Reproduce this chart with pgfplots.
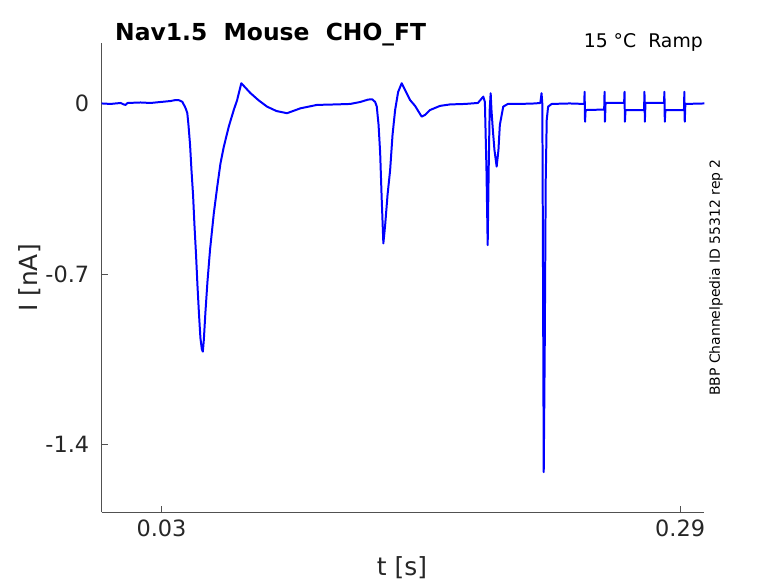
\documentclass[border=0pt]{standalone}
\usepackage{pgfplots}
\pgfplotsset{compat=1.18}
\usepackage{fontspec}
\setmainfont{DejaVu Sans}
\definecolor{axgray}{RGB}{38,38,38}
\begin{document}
\begin{tikzpicture}
\useasboundingbox (0,0) rectangle (778bp,583bp);
\begin{axis}[
  at={(101.7bp,70.7bp)}, anchor=south west,
  scale only axis, width=602.6bp, height=469.3bp,
  xmin=0, xmax=0.3021, ymin=-1.677, ymax=0.248,
  axis x line*=bottom, axis y line*=left,
  axis line style={-, draw=axgray!80, line width=0.6pt},
  tick style={draw=axgray!80, line width=0.6pt},
  major tick length=6bp,
  tick align=inside,
  xtick={0.03,0.29}, xticklabels={0.03,0.29},
  ytick={-1.4,-0.7,0}, yticklabels={-1.4,-0.7,0},
  ticklabel style={font=\fontsize{22.5}{26}\selectfont, text=axgray},
  yticklabel style={xshift=-9bp},
  xticklabel style={yshift=-4bp},
  clip=true,
]
\addplot[blue, line width=2pt, line join=round] table[row sep=\\] {
t I\\
0.0000 0.000\\
0.0045 -0.002\\
0.0095 0.002\\
0.0110 -0.004\\
0.0120 -0.006\\
0.0130 0.002\\
0.0195 0.004\\
0.0245 0.002\\
0.0295 0.006\\
0.0345 0.010\\
0.0370 0.014\\
0.0385 0.014\\
0.0404 0.007\\
0.0415 -0.010\\
0.0422 -0.022\\
0.0429 -0.039\\
0.0435 -0.088\\
0.0443 -0.170\\
0.0450 -0.273\\
0.0458 -0.375\\
0.0465 -0.499\\
0.0473 -0.622\\
0.0480 -0.745\\
0.0488 -0.868\\
0.0495 -0.963\\
0.0502 -1.008\\
0.0507 -1.018\\
0.0512 -0.970\\
0.0520 -0.856\\
0.0530 -0.733\\
0.0543 -0.601\\
0.0562 -0.451\\
0.0579 -0.343\\
0.0595 -0.248\\
0.0612 -0.178\\
0.0637 -0.095\\
0.0662 -0.027\\
0.0679 0.014\\
0.0700 0.083\\
0.0745 0.043\\
0.0785 0.014\\
0.0829 -0.013\\
0.0876 -0.031\\
0.0929 -0.040\\
0.0996 -0.020\\
0.1079 -0.006\\
0.1171 -0.004\\
0.1246 -0.002\\
0.1296 0.006\\
0.1336 0.016\\
0.1356 0.017\\
0.1371 0.006\\
0.1379 -0.013\\
0.1388 -0.088\\
0.1396 -0.203\\
0.1403 -0.375\\
0.1412 -0.574\\
0.1421 -0.499\\
0.1433 -0.375\\
0.1446 -0.273\\
0.1458 -0.129\\
0.1471 -0.027\\
0.1486 0.047\\
0.1504 0.083\\
0.1521 0.055\\
0.1546 0.014\\
0.1571 -0.010\\
0.1604 -0.054\\
0.1621 -0.047\\
0.1646 -0.027\\
0.1696 -0.010\\
0.1746 -0.004\\
0.1821 -0.002\\
0.1886 0.002\\
0.1913 0.028\\
0.1921 0.006\\
0.1929 -0.273\\
0.1935 -0.581\\
0.1940 -0.273\\
0.1945 -0.027\\
0.1950 0.042\\
0.1954 -0.027\\
0.1961 -0.109\\
0.1969 -0.191\\
0.1980 -0.259\\
0.1989 -0.191\\
0.1996 -0.088\\
0.2013 -0.013\\
0.2036 -0.002\\
0.2096 -0.002\\
0.2171 0.000\\
0.2199 0.002\\
0.2205 0.042\\
0.2209 -0.002\\
0.2212 -0.601\\
0.2216 -1.512\\
0.2221 -1.011\\
0.2226 -0.314\\
0.2231 -0.068\\
0.2238 -0.013\\
0.2256 -0.002\\
0.2346 0.000\\
0.2419 -0.002\\
0.2421 0.048\\
0.2423 -0.075\\
0.2426 -0.027\\
0.2519 -0.025\\
0.2521 0.048\\
0.2523 -0.075\\
0.2526 0.002\\
0.2619 0.002\\
0.2621 0.048\\
0.2623 -0.075\\
0.2626 -0.027\\
0.2719 -0.027\\
0.2721 0.048\\
0.2723 -0.075\\
0.2726 0.002\\
0.2819 0.002\\
0.2821 0.048\\
0.2823 -0.075\\
0.2826 -0.027\\
0.2919 -0.027\\
0.2921 0.048\\
0.2923 -0.075\\
0.2926 -0.002\\
0.3021 0.000\\
};
\end{axis}
\node[anchor=base west, inner sep=0pt, font=\fontsize{23.5}{27}\selectfont\bfseries] at (115bp,542bp) {Nav1.5\ \ Mouse\ \ CHO\_FT};
\node[anchor=base east, inner sep=0pt, font=\fontsize{18.9}{22}\selectfont, text=black] at (703bp,535bp) {15 °C\ \ Ramp};
\node[anchor=base, inner sep=0pt, font=\fontsize{25}{28}\selectfont, text=axgray] at (402bp,8bp) {t [s]};
\node[anchor=center, rotate=90, inner sep=0pt, font=\fontsize{25}{28}\selectfont, text=axgray] at (30bp,305bp) {I [nA]};
\node[anchor=center, rotate=90, inner sep=0pt, font=\fontsize{14}{16}\selectfont, text=black] at (716bp,305.5bp) {BBP Channelpedia ID 55312 rep 2};
\end{tikzpicture}
\end{document}
